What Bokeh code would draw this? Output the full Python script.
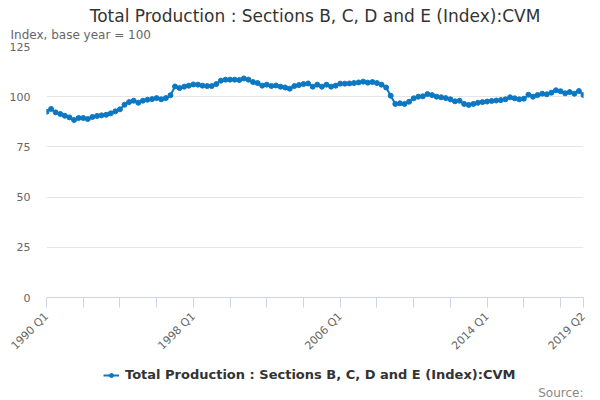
from math import pi

from bokeh.embed import file_html
from bokeh.resources import INLINE
from bokeh.layouts import column
from bokeh.plotting import figure
from bokeh.models import (ColumnDataSource, Range1d, FixedTicker, Title, Label,
                          Legend, LegendItem)

# data: quarterly index, 1990 Q1 .. 2019 Q2
series_name = "Total Production : Sections B, C, D and E (Index):CVM"
values = [
    92.5, 93.9, 92.2, 91.4, 90.5, 89.7, 88.4, 89.4, 89.4, 88.9,
    89.9, 90.4, 90.7, 91.0, 91.7, 92.7, 93.7, 96.0, 97.3, 98.0,
    97.0, 98.0, 98.5, 98.8, 99.3, 98.7, 99.3, 100.7, 105.1, 104.3,
    105.0, 105.5, 106.1, 106.0, 105.5, 105.3, 105.3, 106.3, 108.0, 108.5,
    108.5, 108.5, 108.3, 109.1, 108.5, 107.3, 106.8, 105.5, 106.0, 105.3,
    105.6, 105.0, 104.6, 104.0, 105.3, 105.8, 106.3, 106.6, 105.0, 106.0,
    105.0, 106.0, 105.0, 105.5, 106.5, 106.5, 106.6, 106.8, 107.1, 107.5,
    107.0, 107.3, 106.8, 106.0, 104.6, 100.5, 96.4, 96.7, 96.4, 97.5,
    99.2, 100.0, 100.2, 101.3, 100.8, 100.0, 99.7, 99.3, 98.7, 97.7,
    98.0, 96.4, 95.9, 96.4, 97.0, 97.3, 97.6, 97.9, 98.1, 98.3,
    98.7, 99.7, 99.2, 98.7, 99.0, 101.0, 100.0, 100.8, 101.5, 101.2,
    102.0, 103.2, 102.7, 101.7, 102.3, 101.5, 102.8, 100.8,
]
start_year = 1990
labels = ["%d Q%d" % (start_year + i // 4, i % 4 + 1) for i in range(len(values))]
label_ticks = ["1990 Q1", "1998 Q1", "2006 Q1", "2014 Q1", "2019 Q2"]
y_ticks = [0, 25, 50, 75, 100, 125]

blue = "#0c78c2"
grey = "#666666"
font = "DejaVu Sans"

idx = list(range(len(values)))
source = ColumnDataSource(dict(x=idx, y=values, q=labels))

p = figure(frame_width=537, frame_height=251, output_backend="svg",
           toolbar_location=None,
           x_range=Range1d(0, len(values) - 1), y_range=Range1d(0, 125),
           min_border_left=46, min_border_right=17, min_border_top=46,
           min_border_bottom=0)
p.outline_line_color = None

p.line("x", "y", source=source, color=blue, line_width=2)
p.scatter("x", "y", source=source, size=5, color=blue)

# y axis
p.yaxis.ticker = FixedTicker(ticks=y_ticks)
p.yaxis.axis_line_color = None
p.yaxis.major_tick_line_color = None
p.yaxis.minor_tick_line_color = None
p.yaxis.major_tick_out = 0
p.yaxis.major_label_standoff = 16
p.yaxis.major_label_text_color = grey
p.yaxis.major_label_text_font = font
p.yaxis.major_label_text_font_size = "11px"
p.ygrid.ticker = FixedTicker(ticks=y_ticks)
p.ygrid.grid_line_color = "#e6e6e6"
p.xgrid.grid_line_color = None

# x axis: tick every 2 years, labels on a few quarters
xt = list(range(0, len(values), 8)) + [len(values) - 1]
p.xaxis.ticker = FixedTicker(ticks=xt)
p.xaxis.major_label_overrides = {
    i: (labels[i] if labels[i] in label_ticks else "") for i in xt}
p.xaxis.major_label_orientation = pi / 4
p.xaxis.axis_line_color = "#ccd6eb"
p.xaxis.major_tick_line_color = "#ccd6eb"
p.xaxis.major_tick_out = 10
p.xaxis.major_tick_in = 0
p.xaxis.minor_tick_line_color = None
p.xaxis.major_label_text_color = grey
p.xaxis.major_label_text_font = font
p.xaxis.major_label_text_font_size = "11px"
p.xaxis.major_label_standoff = 7

# titles
p.title.text = series_name
p.title.align = "center"
p.title.offset = -15
p.title.text_font = font
p.title.text_font_size = "17px"
p.title.text_font_style = "normal"
p.title.text_color = "#333333"
p.title.text_line_height = 1.0
p.title.standoff = 0
p.add_layout(Title(text="Index, base year = 100", align="left", offset=-36,
                   vertical_align="top", text_line_height=1.0,
                   text_font=font, text_font_size="12px",
                   text_font_style="normal", text_color=grey, standoff=5),
             "above")

# footer: legend and credit line
foot = figure(width=600, height=40, output_backend="svg", toolbar_location=None,
              x_range=Range1d(0, 1), y_range=Range1d(0, 1),
              x_axis_type=None, y_axis_type=None,
              min_border_left=0, min_border_right=0, min_border_top=0,
              min_border_bottom=0)
foot.outline_line_color = None
foot.grid.visible = False
# same series, outside the footer's ranges: only its legend key shows
key_line = foot.line("x", "y", source=source, color=blue, line_width=2)
key_dot = foot.scatter("x", "y", source=source, size=5, color=blue)

legend = Legend(items=[LegendItem(label=series_name,
                                  renderers=[key_line, key_dot])],
                location=(57, 18), orientation="horizontal",
                border_line_color=None, background_fill_alpha=0,
                label_text_font=font, label_text_font_size="13px",
                label_text_font_style="bold", label_text_color="#333333",
                glyph_width=16, glyph_height=10, label_standoff=6,
                padding=0, margin=0)
foot.add_layout(legend)
foot.add_layout(Label(x=537, y=8, x_units="screen", y_units="screen",
                      text="Source:", text_align="right",
                      text_baseline="middle", text_font=font,
                      text_font_size="12px", text_color="#888888"))

open("out.html", "w").write(file_html(column(p, foot), INLINE))
